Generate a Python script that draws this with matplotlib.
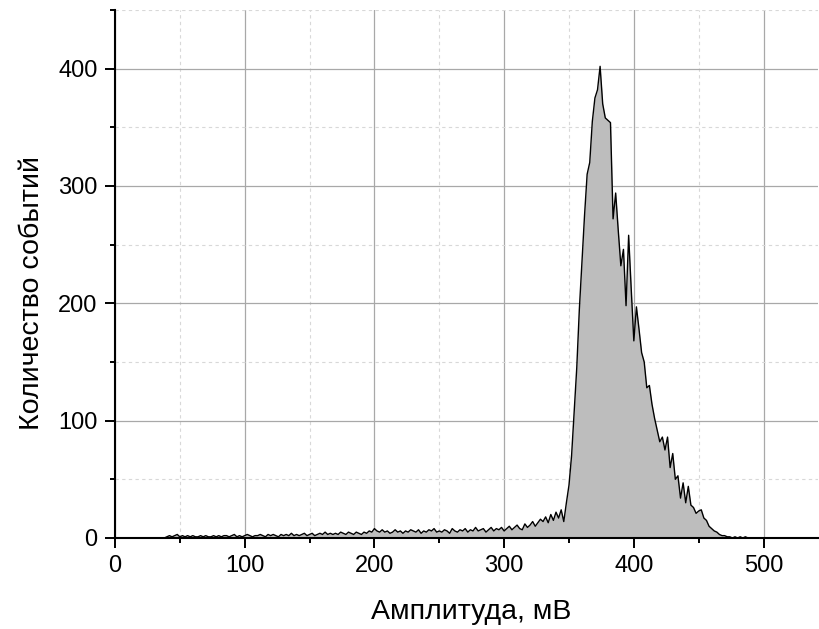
import numpy as np
import matplotlib
matplotlib.use("Agg")
import matplotlib.pyplot as plt
from matplotlib.ticker import MultipleLocator

plt.rcParams['font.family'] = ['Liberation Sans', 'DejaVu Sans']

# Amplitude bins (mV), 2 mV wide
amplitude_start = 30
amplitude_step = 2

# Event counts per bin
counts = [
    0, 0, 0, 0, 0, 1, 2, 1, 2, 3,            # 30-48
    1, 2, 1, 2, 1, 2, 1, 1, 2, 1,            # 50-68
    2, 1, 1, 2, 1, 2, 1, 2, 2, 1,            # 70-88
    2, 3, 1, 2, 1, 2, 3, 2, 1, 2,            # 90-108
    2, 3, 2, 1, 3, 2, 3, 2, 1, 3,            # 110-128
    2, 3, 2, 4, 2, 3, 2, 3, 4, 2,            # 130-148
    3, 4, 2, 3, 4, 3, 5, 3, 4, 3,            # 150-168
    4, 3, 5, 4, 3, 5, 4, 3, 5, 4,            # 170-188
    3, 5, 4, 6, 5, 8, 6, 5, 7, 5,            # 190-208
    6, 4, 5, 7, 5, 6, 4, 6, 5, 7,            # 210-228
    6, 5, 7, 4, 6, 5, 7, 6, 8, 5,            # 230-248
    6, 5, 7, 6, 4, 8, 6, 5, 7, 6,            # 250-268
    8, 5, 7, 6, 9, 6, 7, 8, 5, 7,            # 270-288
    9, 6, 8, 7, 9, 6, 8, 10, 7, 9,           # 290-308
    11, 8, 7, 12, 9, 11, 14, 10, 13, 16,     # 310-328
    14, 18, 13, 20, 15, 22, 17, 24, 14, 30,  # 330-348
    45, 70, 108, 145, 195, 235, 275, 310, 320, 355,   # 350-368
    375, 382, 402, 370, 358, 356, 354, 272, 294, 262,  # 370-388
    232, 246, 198, 258, 212, 168, 197, 178, 158, 150,  # 390-408
    128, 130, 114, 102, 92, 82, 86, 75, 86, 60,        # 410-428
    72, 50, 53, 34, 47, 30, 44, 28, 26, 21,            # 430-448
    23, 24, 17, 15, 10, 8, 6, 5, 3, 2,                 # 450-468
    2, 1, 1, 0, 1, 0, 1, 0, 1, 0,                      # 470-488
]

amplitude = amplitude_start + amplitude_step * np.arange(len(counts))

x_major = [0, 100, 200, 300, 400, 500]
y_major = [0, 100, 200, 300, 400]

fig = plt.figure(figsize=(8.19, 6.29), dpi=100)
ax = fig.add_axes([0.1404, 0.1447, 0.8584, 0.8394])

ax.fill_between(amplitude, counts, 0, color='#bdbdbd', linewidth=0, zorder=2)
ax.plot(amplitude, counts, color='black', linewidth=1.0, zorder=3)

ax.set_xlim(0, 542)
ax.set_ylim(0, 450)

ax.set_xticks(x_major)
ax.set_yticks(y_major)
ax.xaxis.set_minor_locator(MultipleLocator(50))
ax.yaxis.set_minor_locator(MultipleLocator(50))

ax.grid(which='major', color='#a8a8a8', linewidth=0.9, linestyle='-', zorder=0)
ax.grid(which='minor', color='#d8d8d8', linewidth=0.8, linestyle=(0, (3, 3)), zorder=0)
ax.set_axisbelow(True)

for side in ('top', 'right'):
    ax.spines[side].set_visible(False)
for side in ('left', 'bottom'):
    ax.spines[side].set_linewidth(1.5)
    ax.spines[side].set_zorder(4)

ax.tick_params(which='major', direction='out', length=7.5, width=1.4,
               labelsize=17, pad=5)
ax.tick_params(which='minor', direction='out', length=3.8, width=1.4)

ax.set_xlabel('Амплитуда, мВ', fontsize=20.5)
ax.set_ylabel('Количество событий', fontsize=20.5)
ax.xaxis.set_label_coords(0.507, -0.115)
ax.yaxis.set_label_coords(-0.1, 0.464)

fig.savefig('out.png', dpi=100)
